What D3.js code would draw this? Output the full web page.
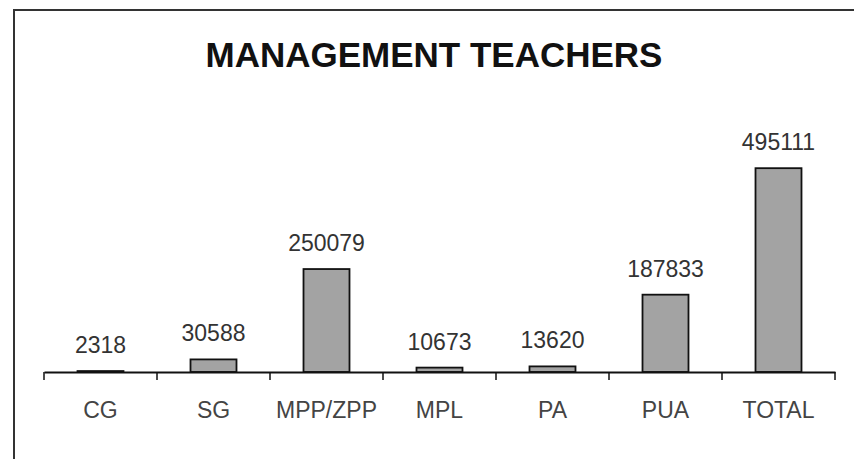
<!DOCTYPE html>
<html><head><meta charset="utf-8">
<script src="https://cdn.jsdelivr.net/npm/d3@7"></script>
<style>body{margin:0;background:#fff}svg{display:block}</style>
</head><body>
<script>
const categories = ["CG","SG","MPP/ZPP","MPL","PA","PUA","TOTAL"];
const values = [2318,30588,250079,10673,13620,187833,495111];
const title = "MANAGEMENT TEACHERS";

const W = 854, H = 459;
const svg = d3.select("body").append("svg").attr("width", W).attr("height", H);

// frame
svg.append("rect").attr("x",14).attr("y",10).attr("width",900).attr("height",500)
  .attr("fill","#fff").attr("stroke","#333").attr("stroke-width",2);

const x = d3.scaleBand().domain(categories).range([44,835]).paddingInner(0.593).paddingOuter(0.2965);
const y = d3.scaleLinear().domain([0,600000]).range([372,125]);

svg.append("text").attr("x",434).attr("y",67).attr("text-anchor","middle")
  .attr("font-family","Liberation Sans, Arial, sans-serif").attr("font-weight","bold")
  .attr("font-size",35).attr("fill","#111").text(title);

// bars
svg.selectAll("rect.bar").data(values).enter().append("rect").attr("class","bar")
  .attr("x",(d,i)=>x(categories[i])).attr("width",x.bandwidth())
  .attr("y",d=>y(d)).attr("height",d=>y(0)-y(d))
  .attr("fill","#a3a3a3").attr("stroke","#111").attr("stroke-width",1.8);

// value labels
svg.selectAll("text.val").data(values).enter().append("text").attr("class","val")
  .attr("x",(d,i)=>x(categories[i])+x.bandwidth()/2).attr("y",d=>y(d)-18)
  .attr("text-anchor","middle").attr("font-family","Liberation Sans, Arial, sans-serif")
  .attr("font-size",23).attr("fill","#333").text(d=>d);

// axis: labels via d3 axis, boundary ticks drawn separately
const ax = svg.append("g").attr("transform","translate(0,372)")
  .call(d3.axisBottom(x).tickSize(0).tickPadding(30));
ax.select(".domain").attr("stroke","#111").attr("stroke-width",1.8);
ax.selectAll("text").attr("font-family","Liberation Sans, Arial, sans-serif")
  .attr("font-size",23).attr("fill","#444");
const step = x.step();
const bounds = categories.map(c => x(c) + x.bandwidth()/2 - step/2).concat([x(categories[categories.length-1]) + x.bandwidth()/2 + step/2]);
svg.selectAll("line.tk").data(bounds).enter().append("line").attr("class","tk")
  .attr("x1",d=>d).attr("x2",d=>d).attr("y1",372).attr("y2",380)
  .attr("stroke","#111").attr("stroke-width",1.5);
</script>
</body></html>
